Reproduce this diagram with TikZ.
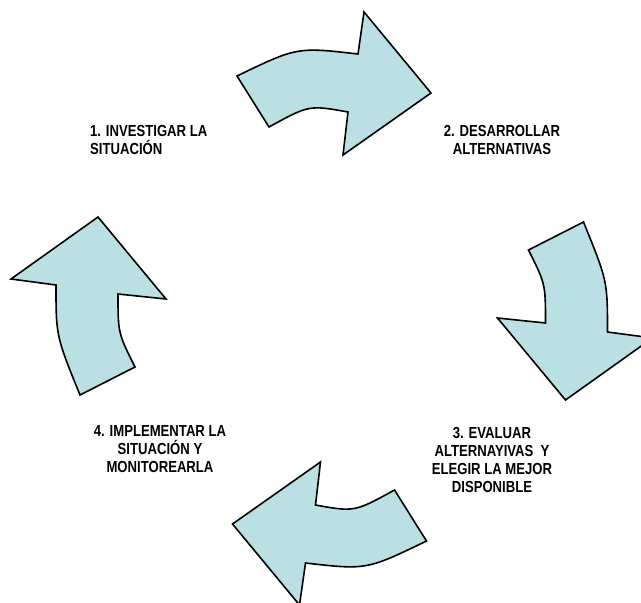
\documentclass[tikz,border=0pt]{standalone}
\usepackage{fontspec}
\newfontfamily\lblfont[FakeStretch=0.82]{Liberation Sans}
\definecolor{arrowfill}{RGB}{186,224,228}
\begin{document}
\begin{tikzpicture}[x=1pt,y=-1pt,
  cyclearrow/.style={draw=black,fill=arrowfill,line width=1.6pt,line join=miter},
  lbl/.style={inner sep=0pt,font=\lblfont\bfseries\fontsize{16pt}{18pt}\selectfont}]
\useasboundingbox (0,0) rectangle (641,603);
\clip (0,0) rectangle (641,603);
\coordinate (ctr) at (331.75,308.5);
% arrow 1 (top)
\path[cyclearrow] (348,112) .. controls (309,105) .. (269,127) -- (237,76)
  .. controls (297,47) .. (358,54) -- (364,12) -- (431,93) -- (343,155) -- cycle;
% arrow 3 (bottom) = arrow 1 turned half round
\path[cyclearrow, rotate around={180:(ctr)}] (348,112) .. controls (309,105) .. (269,127) -- (237,76)
  .. controls (297,47) .. (358,54) -- (364,12) -- (431,93) -- (343,155) -- cycle;
% arrow 4 (left)
\path[cyclearrow] (56,285) .. controls (56,336) .. (80,395) -- (135,367)
  .. controls (118,333) .. (118,294) -- (166,299) -- (98,217) -- (11,279) -- cycle;
% arrow 2 (right) = arrow 4 turned half round
\path[cyclearrow, rotate around={180:(ctr)}] (56,285) .. controls (56,336) .. (80,395) -- (135,367)
  .. controls (118,333) .. (118,294) -- (166,299) -- (98,217) -- (11,279) -- cycle;
% labels (anchor = baseline of the last line)
\node[lbl, anchor=base west, align=left] (l1) at (90,154) {1. INVESTIGAR LA\\SITUACIÓN};
\node[lbl, anchor=base, align=center] (l2) at (502,154) {2. DESARROLLAR\\ALTERNATIVAS};
\node[lbl, anchor=base, align=center] (l3) at (492,492) {3. EVALUAR\\ALTERNAYIVAS\ \ Y\\ELEGIR LA MEJOR\\DISPONIBLE};
\node[lbl, anchor=base, align=center] (l4) at (160,472) {4. IMPLEMENTAR LA\\SITUACIÓN Y\\MONITOREARLA};
\end{tikzpicture}
\end{document}
